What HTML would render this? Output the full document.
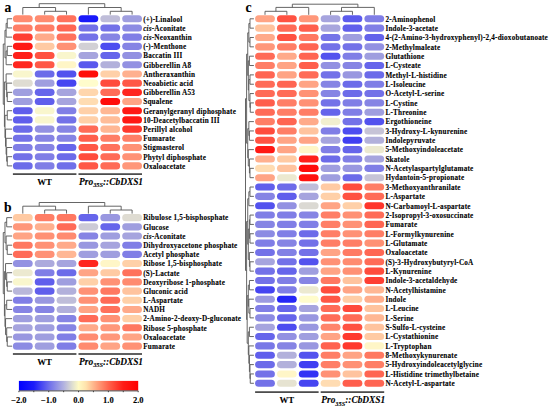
<!DOCTYPE html>
<html><head><meta charset="utf-8"><style>
html,body{margin:0;padding:0;background:#fff;}
body{width:550px;height:408px;overflow:hidden;}
svg{display:block;}
text{font-family:"Liberation Serif",serif;font-weight:bold;fill:#000;stroke:#000;stroke-width:0.1px;}
.lab{font-size:7.2px;letter-spacing:0.2px;}
.grp{font-size:8.8px;}
.gi{font-size:9.4px;}
.gi{font-style:italic;}
.sub{font-size:6.3px;}
.pl{font-size:13.6px;}
.lg{font-size:8.5px;}
.dg{stroke:#555;stroke-width:0.9;fill:none;}
.ax{stroke:#333;stroke-width:0.9;fill:none;}
</style></head><body>
<svg width="550" height="408" viewBox="0 0 550 408">
<rect x="12.90" y="15.20" width="19.8" height="7.1" rx="3.55" fill="#ff8b70"/>
<rect x="34.76" y="15.20" width="19.8" height="7.1" rx="3.55" fill="#ff8b70"/>
<rect x="56.62" y="15.20" width="19.8" height="7.1" rx="3.55" fill="#ff715c"/>
<rect x="78.48" y="15.20" width="19.8" height="7.1" rx="3.55" fill="#1919fa"/>
<rect x="100.34" y="15.20" width="19.8" height="7.1" rx="3.55" fill="#bfbdd9"/>
<rect x="122.20" y="15.20" width="19.8" height="7.1" rx="3.55" fill="#9f9edf"/>
<rect x="12.90" y="24.40" width="19.8" height="7.1" rx="3.55" fill="#ff7e66"/>
<rect x="34.76" y="24.40" width="19.8" height="7.1" rx="3.55" fill="#ff7e66"/>
<rect x="56.62" y="24.40" width="19.8" height="7.1" rx="3.55" fill="#ff6552"/>
<rect x="78.48" y="24.40" width="19.8" height="7.1" rx="3.55" fill="#7371e8"/>
<rect x="100.34" y="24.40" width="19.8" height="7.1" rx="3.55" fill="#7371e8"/>
<rect x="122.20" y="24.40" width="19.8" height="7.1" rx="3.55" fill="#8c8be3"/>
<rect x="12.90" y="33.59" width="19.8" height="7.1" rx="3.55" fill="#ff3f33"/>
<rect x="34.76" y="33.59" width="19.8" height="7.1" rx="3.55" fill="#ffaa8a"/>
<rect x="56.62" y="33.59" width="19.8" height="7.1" rx="3.55" fill="#ff715c"/>
<rect x="78.48" y="33.59" width="19.8" height="7.1" rx="3.55" fill="#7371e8"/>
<rect x="100.34" y="33.59" width="19.8" height="7.1" rx="3.55" fill="#8684e4"/>
<rect x="122.20" y="33.59" width="19.8" height="7.1" rx="3.55" fill="#807ee6"/>
<rect x="12.90" y="42.79" width="19.8" height="7.1" rx="3.55" fill="#ff1914"/>
<rect x="34.76" y="42.79" width="19.8" height="7.1" rx="3.55" fill="#ffcaa3"/>
<rect x="56.62" y="42.79" width="19.8" height="7.1" rx="3.55" fill="#ff9175"/>
<rect x="78.48" y="42.79" width="19.8" height="7.1" rx="3.55" fill="#d2d0d5"/>
<rect x="100.34" y="42.79" width="19.8" height="7.1" rx="3.55" fill="#4d4cf0"/>
<rect x="122.20" y="42.79" width="19.8" height="7.1" rx="3.55" fill="#8684e4"/>
<rect x="12.90" y="51.99" width="19.8" height="7.1" rx="3.55" fill="#ff201a"/>
<rect x="34.76" y="51.99" width="19.8" height="7.1" rx="3.55" fill="#ff5242"/>
<rect x="56.62" y="51.99" width="19.8" height="7.1" rx="3.55" fill="#f9f6cd"/>
<rect x="78.48" y="51.99" width="19.8" height="7.1" rx="3.55" fill="#a6a4de"/>
<rect x="100.34" y="51.99" width="19.8" height="7.1" rx="3.55" fill="#6665eb"/>
<rect x="122.20" y="51.99" width="19.8" height="7.1" rx="3.55" fill="#9391e2"/>
<rect x="12.90" y="61.19" width="19.8" height="7.1" rx="3.55" fill="#ff261f"/>
<rect x="34.76" y="61.19" width="19.8" height="7.1" rx="3.55" fill="#ff5847"/>
<rect x="56.62" y="61.19" width="19.8" height="7.1" rx="3.55" fill="#fff6c7"/>
<rect x="78.48" y="61.19" width="19.8" height="7.1" rx="3.55" fill="#5958ed"/>
<rect x="100.34" y="61.19" width="19.8" height="7.1" rx="3.55" fill="#b2b0db"/>
<rect x="122.20" y="61.19" width="19.8" height="7.1" rx="3.55" fill="#9391e2"/>
<rect x="12.90" y="70.38" width="19.8" height="7.1" rx="3.55" fill="#f9f6cd"/>
<rect x="34.76" y="70.38" width="19.8" height="7.1" rx="3.55" fill="#6c6be9"/>
<rect x="56.62" y="70.38" width="19.8" height="7.1" rx="3.55" fill="#5352ee"/>
<rect x="78.48" y="70.38" width="19.8" height="7.1" rx="3.55" fill="#ff0d0a"/>
<rect x="100.34" y="70.38" width="19.8" height="7.1" rx="3.55" fill="#ffd0a8"/>
<rect x="122.20" y="70.38" width="19.8" height="7.1" rx="3.55" fill="#ffb08f"/>
<rect x="12.90" y="79.58" width="19.8" height="7.1" rx="3.55" fill="#dfdcd2"/>
<rect x="34.76" y="79.58" width="19.8" height="7.1" rx="3.55" fill="#9f9edf"/>
<rect x="56.62" y="79.58" width="19.8" height="7.1" rx="3.55" fill="#4645f1"/>
<rect x="78.48" y="79.58" width="19.8" height="7.1" rx="3.55" fill="#fffccc"/>
<rect x="100.34" y="79.58" width="19.8" height="7.1" rx="3.55" fill="#ff4c3d"/>
<rect x="122.20" y="79.58" width="19.8" height="7.1" rx="3.55" fill="#ff5847"/>
<rect x="12.90" y="88.78" width="19.8" height="7.1" rx="3.55" fill="#9f9edf"/>
<rect x="34.76" y="88.78" width="19.8" height="7.1" rx="3.55" fill="#6665eb"/>
<rect x="56.62" y="88.78" width="19.8" height="7.1" rx="3.55" fill="#a6a4de"/>
<rect x="78.48" y="88.78" width="19.8" height="7.1" rx="3.55" fill="#ffd6ad"/>
<rect x="100.34" y="88.78" width="19.8" height="7.1" rx="3.55" fill="#ff6b57"/>
<rect x="122.20" y="88.78" width="19.8" height="7.1" rx="3.55" fill="#ff261f"/>
<rect x="12.90" y="97.97" width="19.8" height="7.1" rx="3.55" fill="#9f9edf"/>
<rect x="34.76" y="97.97" width="19.8" height="7.1" rx="3.55" fill="#605eec"/>
<rect x="56.62" y="97.97" width="19.8" height="7.1" rx="3.55" fill="#a6a4de"/>
<rect x="78.48" y="97.97" width="19.8" height="7.1" rx="3.55" fill="#ffdcb2"/>
<rect x="100.34" y="97.97" width="19.8" height="7.1" rx="3.55" fill="#ff0d0a"/>
<rect x="122.20" y="97.97" width="19.8" height="7.1" rx="3.55" fill="#ffa485"/>
<rect x="12.90" y="107.17" width="19.8" height="7.1" rx="3.55" fill="#605eec"/>
<rect x="34.76" y="107.17" width="19.8" height="7.1" rx="3.55" fill="#f9f6cd"/>
<rect x="56.62" y="107.17" width="19.8" height="7.1" rx="3.55" fill="#807ee6"/>
<rect x="78.48" y="107.17" width="19.8" height="7.1" rx="3.55" fill="#ffd0a8"/>
<rect x="100.34" y="107.17" width="19.8" height="7.1" rx="3.55" fill="#ffb794"/>
<rect x="122.20" y="107.17" width="19.8" height="7.1" rx="3.55" fill="#ff1914"/>
<rect x="12.90" y="116.37" width="19.8" height="7.1" rx="3.55" fill="#605eec"/>
<rect x="34.76" y="116.37" width="19.8" height="7.1" rx="3.55" fill="#f9f6cd"/>
<rect x="56.62" y="116.37" width="19.8" height="7.1" rx="3.55" fill="#7371e8"/>
<rect x="78.48" y="116.37" width="19.8" height="7.1" rx="3.55" fill="#ffd0a8"/>
<rect x="100.34" y="116.37" width="19.8" height="7.1" rx="3.55" fill="#ffbd99"/>
<rect x="122.20" y="116.37" width="19.8" height="7.1" rx="3.55" fill="#ff1914"/>
<rect x="12.90" y="125.56" width="19.8" height="7.1" rx="3.55" fill="#6c6be9"/>
<rect x="34.76" y="125.56" width="19.8" height="7.1" rx="3.55" fill="#9391e2"/>
<rect x="56.62" y="125.56" width="19.8" height="7.1" rx="3.55" fill="#8684e4"/>
<rect x="78.48" y="125.56" width="19.8" height="7.1" rx="3.55" fill="#ff6b57"/>
<rect x="100.34" y="125.56" width="19.8" height="7.1" rx="3.55" fill="#ffb794"/>
<rect x="122.20" y="125.56" width="19.8" height="7.1" rx="3.55" fill="#ff392e"/>
<rect x="12.90" y="134.76" width="19.8" height="7.1" rx="3.55" fill="#7371e8"/>
<rect x="34.76" y="134.76" width="19.8" height="7.1" rx="3.55" fill="#8684e4"/>
<rect x="56.62" y="134.76" width="19.8" height="7.1" rx="3.55" fill="#8684e4"/>
<rect x="78.48" y="134.76" width="19.8" height="7.1" rx="3.55" fill="#ff5e4c"/>
<rect x="100.34" y="134.76" width="19.8" height="7.1" rx="3.55" fill="#ff7e66"/>
<rect x="122.20" y="134.76" width="19.8" height="7.1" rx="3.55" fill="#ff7e66"/>
<rect x="12.90" y="143.96" width="19.8" height="7.1" rx="3.55" fill="#807ee6"/>
<rect x="34.76" y="143.96" width="19.8" height="7.1" rx="3.55" fill="#8684e4"/>
<rect x="56.62" y="143.96" width="19.8" height="7.1" rx="3.55" fill="#6665eb"/>
<rect x="78.48" y="143.96" width="19.8" height="7.1" rx="3.55" fill="#ff5847"/>
<rect x="100.34" y="143.96" width="19.8" height="7.1" rx="3.55" fill="#ff715c"/>
<rect x="122.20" y="143.96" width="19.8" height="7.1" rx="3.55" fill="#ff9175"/>
<rect x="12.90" y="153.15" width="19.8" height="7.1" rx="3.55" fill="#7371e8"/>
<rect x="34.76" y="153.15" width="19.8" height="7.1" rx="3.55" fill="#807ee6"/>
<rect x="56.62" y="153.15" width="19.8" height="7.1" rx="3.55" fill="#6c6be9"/>
<rect x="78.48" y="153.15" width="19.8" height="7.1" rx="3.55" fill="#ff4c3d"/>
<rect x="100.34" y="153.15" width="19.8" height="7.1" rx="3.55" fill="#ff6b57"/>
<rect x="122.20" y="153.15" width="19.8" height="7.1" rx="3.55" fill="#ff9175"/>
<rect x="12.90" y="162.35" width="19.8" height="7.1" rx="3.55" fill="#6c6be9"/>
<rect x="34.76" y="162.35" width="19.8" height="7.1" rx="3.55" fill="#807ee6"/>
<rect x="56.62" y="162.35" width="19.8" height="7.1" rx="3.55" fill="#706fe9"/>
<rect x="78.48" y="162.35" width="19.8" height="7.1" rx="3.55" fill="#ff5847"/>
<rect x="100.34" y="162.35" width="19.8" height="7.1" rx="3.55" fill="#ff6b57"/>
<rect x="122.20" y="162.35" width="19.8" height="7.1" rx="3.55" fill="#ff977a"/>
<rect x="12.90" y="214.10" width="19.8" height="7.1" rx="3.55" fill="#ffcaa3"/>
<rect x="34.76" y="214.10" width="19.8" height="7.1" rx="3.55" fill="#ff7e66"/>
<rect x="56.62" y="214.10" width="19.8" height="7.1" rx="3.55" fill="#ff7861"/>
<rect x="78.48" y="214.10" width="19.8" height="7.1" rx="3.55" fill="#6665eb"/>
<rect x="100.34" y="214.10" width="19.8" height="7.1" rx="3.55" fill="#9997e0"/>
<rect x="122.20" y="214.10" width="19.8" height="7.1" rx="3.55" fill="#dfdcd2"/>
<rect x="12.90" y="223.28" width="19.8" height="7.1" rx="3.55" fill="#ff977a"/>
<rect x="34.76" y="223.28" width="19.8" height="7.1" rx="3.55" fill="#ffb08f"/>
<rect x="56.62" y="223.28" width="19.8" height="7.1" rx="3.55" fill="#ff6b57"/>
<rect x="78.48" y="223.28" width="19.8" height="7.1" rx="3.55" fill="#cccad6"/>
<rect x="100.34" y="223.28" width="19.8" height="7.1" rx="3.55" fill="#6665eb"/>
<rect x="122.20" y="223.28" width="19.8" height="7.1" rx="3.55" fill="#9f9edf"/>
<rect x="12.90" y="232.46" width="19.8" height="7.1" rx="3.55" fill="#ffa485"/>
<rect x="34.76" y="232.46" width="19.8" height="7.1" rx="3.55" fill="#ff9175"/>
<rect x="56.62" y="232.46" width="19.8" height="7.1" rx="3.55" fill="#ff8b70"/>
<rect x="78.48" y="232.46" width="19.8" height="7.1" rx="3.55" fill="#8684e4"/>
<rect x="100.34" y="232.46" width="19.8" height="7.1" rx="3.55" fill="#9f9edf"/>
<rect x="122.20" y="232.46" width="19.8" height="7.1" rx="3.55" fill="#a6a4de"/>
<rect x="12.90" y="241.64" width="19.8" height="7.1" rx="3.55" fill="#ff7861"/>
<rect x="34.76" y="241.64" width="19.8" height="7.1" rx="3.55" fill="#ff9175"/>
<rect x="56.62" y="241.64" width="19.8" height="7.1" rx="3.55" fill="#ffaa8a"/>
<rect x="78.48" y="241.64" width="19.8" height="7.1" rx="3.55" fill="#9997e0"/>
<rect x="100.34" y="241.64" width="19.8" height="7.1" rx="3.55" fill="#a6a4de"/>
<rect x="122.20" y="241.64" width="19.8" height="7.1" rx="3.55" fill="#807ee6"/>
<rect x="12.90" y="250.82" width="19.8" height="7.1" rx="3.55" fill="#ff6b57"/>
<rect x="34.76" y="250.82" width="19.8" height="7.1" rx="3.55" fill="#ff9175"/>
<rect x="56.62" y="250.82" width="19.8" height="7.1" rx="3.55" fill="#ffb794"/>
<rect x="78.48" y="250.82" width="19.8" height="7.1" rx="3.55" fill="#9f9edf"/>
<rect x="100.34" y="250.82" width="19.8" height="7.1" rx="3.55" fill="#9f9edf"/>
<rect x="122.20" y="250.82" width="19.8" height="7.1" rx="3.55" fill="#807ee6"/>
<rect x="12.90" y="260.00" width="19.8" height="7.1" rx="3.55" fill="#9391e2"/>
<rect x="34.76" y="260.00" width="19.8" height="7.1" rx="3.55" fill="#acaadd"/>
<rect x="56.62" y="260.00" width="19.8" height="7.1" rx="3.55" fill="#a6a4de"/>
<rect x="78.48" y="260.00" width="19.8" height="7.1" rx="3.55" fill="#ff261f"/>
<rect x="100.34" y="260.00" width="19.8" height="7.1" rx="3.55" fill="#fff6c7"/>
<rect x="122.20" y="260.00" width="19.8" height="7.1" rx="3.55" fill="#ffd0a8"/>
<rect x="12.90" y="269.18" width="19.8" height="7.1" rx="3.55" fill="#ece9d0"/>
<rect x="34.76" y="269.18" width="19.8" height="7.1" rx="3.55" fill="#807ee6"/>
<rect x="56.62" y="269.18" width="19.8" height="7.1" rx="3.55" fill="#6c6be9"/>
<rect x="78.48" y="269.18" width="19.8" height="7.1" rx="3.55" fill="#ffa485"/>
<rect x="100.34" y="269.18" width="19.8" height="7.1" rx="3.55" fill="#ffcaa3"/>
<rect x="122.20" y="269.18" width="19.8" height="7.1" rx="3.55" fill="#ff715c"/>
<rect x="12.90" y="278.36" width="19.8" height="7.1" rx="3.55" fill="#f9f6cd"/>
<rect x="34.76" y="278.36" width="19.8" height="7.1" rx="3.55" fill="#605eec"/>
<rect x="56.62" y="278.36" width="19.8" height="7.1" rx="3.55" fill="#9f9edf"/>
<rect x="78.48" y="278.36" width="19.8" height="7.1" rx="3.55" fill="#ffd0a8"/>
<rect x="100.34" y="278.36" width="19.8" height="7.1" rx="3.55" fill="#ff9175"/>
<rect x="122.20" y="278.36" width="19.8" height="7.1" rx="3.55" fill="#ff8b70"/>
<rect x="12.90" y="287.54" width="19.8" height="7.1" rx="3.55" fill="#b9b7da"/>
<rect x="34.76" y="287.54" width="19.8" height="7.1" rx="3.55" fill="#605eec"/>
<rect x="56.62" y="287.54" width="19.8" height="7.1" rx="3.55" fill="#b2b0db"/>
<rect x="78.48" y="287.54" width="19.8" height="7.1" rx="3.55" fill="#ff9175"/>
<rect x="100.34" y="287.54" width="19.8" height="7.1" rx="3.55" fill="#ff7861"/>
<rect x="122.20" y="287.54" width="19.8" height="7.1" rx="3.55" fill="#ffc39e"/>
<rect x="12.90" y="296.72" width="19.8" height="7.1" rx="3.55" fill="#807ee6"/>
<rect x="34.76" y="296.72" width="19.8" height="7.1" rx="3.55" fill="#9997e0"/>
<rect x="56.62" y="296.72" width="19.8" height="7.1" rx="3.55" fill="#bfbdd9"/>
<rect x="78.48" y="296.72" width="19.8" height="7.1" rx="3.55" fill="#ff9175"/>
<rect x="100.34" y="296.72" width="19.8" height="7.1" rx="3.55" fill="#ff6b57"/>
<rect x="122.20" y="296.72" width="19.8" height="7.1" rx="3.55" fill="#ffd0a8"/>
<rect x="12.90" y="305.90" width="19.8" height="7.1" rx="3.55" fill="#8684e4"/>
<rect x="34.76" y="305.90" width="19.8" height="7.1" rx="3.55" fill="#8684e4"/>
<rect x="56.62" y="305.90" width="19.8" height="7.1" rx="3.55" fill="#b2b0db"/>
<rect x="78.48" y="305.90" width="19.8" height="7.1" rx="3.55" fill="#ffa485"/>
<rect x="100.34" y="305.90" width="19.8" height="7.1" rx="3.55" fill="#ff715c"/>
<rect x="122.20" y="305.90" width="19.8" height="7.1" rx="3.55" fill="#ffaa8a"/>
<rect x="12.90" y="315.08" width="19.8" height="7.1" rx="3.55" fill="#9f9edf"/>
<rect x="34.76" y="315.08" width="19.8" height="7.1" rx="3.55" fill="#9f9edf"/>
<rect x="56.62" y="315.08" width="19.8" height="7.1" rx="3.55" fill="#8684e4"/>
<rect x="78.48" y="315.08" width="19.8" height="7.1" rx="3.55" fill="#ff6b57"/>
<rect x="100.34" y="315.08" width="19.8" height="7.1" rx="3.55" fill="#ff9175"/>
<rect x="122.20" y="315.08" width="19.8" height="7.1" rx="3.55" fill="#ffd0a8"/>
<rect x="12.90" y="324.26" width="19.8" height="7.1" rx="3.55" fill="#a6a4de"/>
<rect x="34.76" y="324.26" width="19.8" height="7.1" rx="3.55" fill="#9f9edf"/>
<rect x="56.62" y="324.26" width="19.8" height="7.1" rx="3.55" fill="#8684e4"/>
<rect x="78.48" y="324.26" width="19.8" height="7.1" rx="3.55" fill="#ffaa8a"/>
<rect x="100.34" y="324.26" width="19.8" height="7.1" rx="3.55" fill="#ff977a"/>
<rect x="122.20" y="324.26" width="19.8" height="7.1" rx="3.55" fill="#ff7861"/>
<rect x="12.90" y="333.44" width="19.8" height="7.1" rx="3.55" fill="#9997e0"/>
<rect x="34.76" y="333.44" width="19.8" height="7.1" rx="3.55" fill="#9f9edf"/>
<rect x="56.62" y="333.44" width="19.8" height="7.1" rx="3.55" fill="#807ee6"/>
<rect x="78.48" y="333.44" width="19.8" height="7.1" rx="3.55" fill="#ff8b70"/>
<rect x="100.34" y="333.44" width="19.8" height="7.1" rx="3.55" fill="#ff977a"/>
<rect x="122.20" y="333.44" width="19.8" height="7.1" rx="3.55" fill="#ffa485"/>
<rect x="12.90" y="342.62" width="19.8" height="7.1" rx="3.55" fill="#8c8be3"/>
<rect x="34.76" y="342.62" width="19.8" height="7.1" rx="3.55" fill="#9f9edf"/>
<rect x="56.62" y="342.62" width="19.8" height="7.1" rx="3.55" fill="#807ee6"/>
<rect x="78.48" y="342.62" width="19.8" height="7.1" rx="3.55" fill="#ff8b70"/>
<rect x="100.34" y="342.62" width="19.8" height="7.1" rx="3.55" fill="#ffa485"/>
<rect x="122.20" y="342.62" width="19.8" height="7.1" rx="3.55" fill="#ff9175"/>
<rect x="255.10" y="15.25" width="19.8" height="7.1" rx="3.55" fill="#ffa485"/>
<rect x="276.96" y="15.25" width="19.8" height="7.1" rx="3.55" fill="#ff5242"/>
<rect x="298.82" y="15.25" width="19.8" height="7.1" rx="3.55" fill="#ff977a"/>
<rect x="320.68" y="15.25" width="19.8" height="7.1" rx="3.55" fill="#a6a4de"/>
<rect x="342.54" y="15.25" width="19.8" height="7.1" rx="3.55" fill="#5c5bed"/>
<rect x="364.40" y="15.25" width="19.8" height="7.1" rx="3.55" fill="#807ee6"/>
<rect x="255.10" y="24.60" width="19.8" height="7.1" rx="3.55" fill="#ffc39e"/>
<rect x="276.96" y="24.60" width="19.8" height="7.1" rx="3.55" fill="#ff6b57"/>
<rect x="298.82" y="24.60" width="19.8" height="7.1" rx="3.55" fill="#ff5e4c"/>
<rect x="320.68" y="24.60" width="19.8" height="7.1" rx="3.55" fill="#a8a6dd"/>
<rect x="342.54" y="24.60" width="19.8" height="7.1" rx="3.55" fill="#605eec"/>
<rect x="364.40" y="24.60" width="19.8" height="7.1" rx="3.55" fill="#807ee6"/>
<rect x="255.10" y="33.94" width="19.8" height="7.1" rx="3.55" fill="#ffaa8a"/>
<rect x="276.96" y="33.94" width="19.8" height="7.1" rx="3.55" fill="#ff5242"/>
<rect x="298.82" y="33.94" width="19.8" height="7.1" rx="3.55" fill="#ff7861"/>
<rect x="320.68" y="33.94" width="19.8" height="7.1" rx="3.55" fill="#7574e8"/>
<rect x="342.54" y="33.94" width="19.8" height="7.1" rx="3.55" fill="#9f9edf"/>
<rect x="364.40" y="33.94" width="19.8" height="7.1" rx="3.55" fill="#6362eb"/>
<rect x="255.10" y="43.29" width="19.8" height="7.1" rx="3.55" fill="#ff977a"/>
<rect x="276.96" y="43.29" width="19.8" height="7.1" rx="3.55" fill="#ff7e66"/>
<rect x="298.82" y="43.29" width="19.8" height="7.1" rx="3.55" fill="#ff6552"/>
<rect x="320.68" y="43.29" width="19.8" height="7.1" rx="3.55" fill="#7371e8"/>
<rect x="342.54" y="43.29" width="19.8" height="7.1" rx="3.55" fill="#7371e8"/>
<rect x="364.40" y="43.29" width="19.8" height="7.1" rx="3.55" fill="#9391e2"/>
<rect x="255.10" y="52.63" width="19.8" height="7.1" rx="3.55" fill="#ff6b57"/>
<rect x="276.96" y="52.63" width="19.8" height="7.1" rx="3.55" fill="#ffaa8a"/>
<rect x="298.82" y="52.63" width="19.8" height="7.1" rx="3.55" fill="#ff6552"/>
<rect x="320.68" y="52.63" width="19.8" height="7.1" rx="3.55" fill="#5352ee"/>
<rect x="342.54" y="52.63" width="19.8" height="7.1" rx="3.55" fill="#807ee6"/>
<rect x="364.40" y="52.63" width="19.8" height="7.1" rx="3.55" fill="#9f9edf"/>
<rect x="255.10" y="61.98" width="19.8" height="7.1" rx="3.55" fill="#ff7e66"/>
<rect x="276.96" y="61.98" width="19.8" height="7.1" rx="3.55" fill="#ffa485"/>
<rect x="298.82" y="61.98" width="19.8" height="7.1" rx="3.55" fill="#ff5e4c"/>
<rect x="320.68" y="61.98" width="19.8" height="7.1" rx="3.55" fill="#9391e2"/>
<rect x="342.54" y="61.98" width="19.8" height="7.1" rx="3.55" fill="#8684e4"/>
<rect x="364.40" y="61.98" width="19.8" height="7.1" rx="3.55" fill="#6665eb"/>
<rect x="255.10" y="71.33" width="19.8" height="7.1" rx="3.55" fill="#ff6552"/>
<rect x="276.96" y="71.33" width="19.8" height="7.1" rx="3.55" fill="#ffa485"/>
<rect x="298.82" y="71.33" width="19.8" height="7.1" rx="3.55" fill="#ff6b57"/>
<rect x="320.68" y="71.33" width="19.8" height="7.1" rx="3.55" fill="#7371e8"/>
<rect x="342.54" y="71.33" width="19.8" height="7.1" rx="3.55" fill="#9997e0"/>
<rect x="364.40" y="71.33" width="19.8" height="7.1" rx="3.55" fill="#6c6be9"/>
<rect x="255.10" y="80.67" width="19.8" height="7.1" rx="3.55" fill="#ff6b57"/>
<rect x="276.96" y="80.67" width="19.8" height="7.1" rx="3.55" fill="#ff6552"/>
<rect x="298.82" y="80.67" width="19.8" height="7.1" rx="3.55" fill="#ffa485"/>
<rect x="320.68" y="80.67" width="19.8" height="7.1" rx="3.55" fill="#8684e4"/>
<rect x="342.54" y="80.67" width="19.8" height="7.1" rx="3.55" fill="#6c6be9"/>
<rect x="364.40" y="80.67" width="19.8" height="7.1" rx="3.55" fill="#807ee6"/>
<rect x="255.10" y="90.02" width="19.8" height="7.1" rx="3.55" fill="#ff6b57"/>
<rect x="276.96" y="90.02" width="19.8" height="7.1" rx="3.55" fill="#ff6b57"/>
<rect x="298.82" y="90.02" width="19.8" height="7.1" rx="3.55" fill="#ff9175"/>
<rect x="320.68" y="90.02" width="19.8" height="7.1" rx="3.55" fill="#8684e4"/>
<rect x="342.54" y="90.02" width="19.8" height="7.1" rx="3.55" fill="#6c6be9"/>
<rect x="364.40" y="90.02" width="19.8" height="7.1" rx="3.55" fill="#7371e8"/>
<rect x="255.10" y="99.36" width="19.8" height="7.1" rx="3.55" fill="#ff5e4c"/>
<rect x="276.96" y="99.36" width="19.8" height="7.1" rx="3.55" fill="#ff7e66"/>
<rect x="298.82" y="99.36" width="19.8" height="7.1" rx="3.55" fill="#ff9175"/>
<rect x="320.68" y="99.36" width="19.8" height="7.1" rx="3.55" fill="#7371e8"/>
<rect x="342.54" y="99.36" width="19.8" height="7.1" rx="3.55" fill="#807ee6"/>
<rect x="364.40" y="99.36" width="19.8" height="7.1" rx="3.55" fill="#8684e4"/>
<rect x="255.10" y="108.71" width="19.8" height="7.1" rx="3.55" fill="#ff6b57"/>
<rect x="276.96" y="108.71" width="19.8" height="7.1" rx="3.55" fill="#ff7e66"/>
<rect x="298.82" y="108.71" width="19.8" height="7.1" rx="3.55" fill="#ff7e66"/>
<rect x="320.68" y="108.71" width="19.8" height="7.1" rx="3.55" fill="#6665eb"/>
<rect x="342.54" y="108.71" width="19.8" height="7.1" rx="3.55" fill="#807ee6"/>
<rect x="364.40" y="108.71" width="19.8" height="7.1" rx="3.55" fill="#9f9edf"/>
<rect x="255.10" y="118.06" width="19.8" height="7.1" rx="3.55" fill="#ff7e66"/>
<rect x="276.96" y="118.06" width="19.8" height="7.1" rx="3.55" fill="#ff6552"/>
<rect x="298.82" y="118.06" width="19.8" height="7.1" rx="3.55" fill="#ffaa8a"/>
<rect x="320.68" y="118.06" width="19.8" height="7.1" rx="3.55" fill="#f2efcf"/>
<rect x="342.54" y="118.06" width="19.8" height="7.1" rx="3.55" fill="#7371e8"/>
<rect x="364.40" y="118.06" width="19.8" height="7.1" rx="3.55" fill="#5352ee"/>
<rect x="255.10" y="127.40" width="19.8" height="7.1" rx="3.55" fill="#ff4c3d"/>
<rect x="276.96" y="127.40" width="19.8" height="7.1" rx="3.55" fill="#ff7e66"/>
<rect x="298.82" y="127.40" width="19.8" height="7.1" rx="3.55" fill="#ffc39e"/>
<rect x="320.68" y="127.40" width="19.8" height="7.1" rx="3.55" fill="#807ee6"/>
<rect x="342.54" y="127.40" width="19.8" height="7.1" rx="3.55" fill="#4d4cf0"/>
<rect x="364.40" y="127.40" width="19.8" height="7.1" rx="3.55" fill="#c6c3d7"/>
<rect x="255.10" y="136.75" width="19.8" height="7.1" rx="3.55" fill="#ff5242"/>
<rect x="276.96" y="136.75" width="19.8" height="7.1" rx="3.55" fill="#ffa485"/>
<rect x="298.82" y="136.75" width="19.8" height="7.1" rx="3.55" fill="#ffa485"/>
<rect x="320.68" y="136.75" width="19.8" height="7.1" rx="3.55" fill="#a6a4de"/>
<rect x="342.54" y="136.75" width="19.8" height="7.1" rx="3.55" fill="#403ff2"/>
<rect x="364.40" y="136.75" width="19.8" height="7.1" rx="3.55" fill="#b2b0db"/>
<rect x="255.10" y="146.09" width="19.8" height="7.1" rx="3.55" fill="#ff1914"/>
<rect x="276.96" y="146.09" width="19.8" height="7.1" rx="3.55" fill="#ffa485"/>
<rect x="298.82" y="146.09" width="19.8" height="7.1" rx="3.55" fill="#fff6c7"/>
<rect x="320.68" y="146.09" width="19.8" height="7.1" rx="3.55" fill="#807ee6"/>
<rect x="342.54" y="146.09" width="19.8" height="7.1" rx="3.55" fill="#6665eb"/>
<rect x="364.40" y="146.09" width="19.8" height="7.1" rx="3.55" fill="#ece9d0"/>
<rect x="255.10" y="155.44" width="19.8" height="7.1" rx="3.55" fill="#ffb08f"/>
<rect x="276.96" y="155.44" width="19.8" height="7.1" rx="3.55" fill="#ffcaa3"/>
<rect x="298.82" y="155.44" width="19.8" height="7.1" rx="3.55" fill="#ff201a"/>
<rect x="320.68" y="155.44" width="19.8" height="7.1" rx="3.55" fill="#6c6be9"/>
<rect x="342.54" y="155.44" width="19.8" height="7.1" rx="3.55" fill="#807ee6"/>
<rect x="364.40" y="155.44" width="19.8" height="7.1" rx="3.55" fill="#a6a4de"/>
<rect x="255.10" y="164.79" width="19.8" height="7.1" rx="3.55" fill="#ffdcb2"/>
<rect x="276.96" y="164.79" width="19.8" height="7.1" rx="3.55" fill="#ffc39e"/>
<rect x="298.82" y="164.79" width="19.8" height="7.1" rx="3.55" fill="#ff0d0a"/>
<rect x="320.68" y="164.79" width="19.8" height="7.1" rx="3.55" fill="#9f9edf"/>
<rect x="342.54" y="164.79" width="19.8" height="7.1" rx="3.55" fill="#9997e0"/>
<rect x="364.40" y="164.79" width="19.8" height="7.1" rx="3.55" fill="#807ee6"/>
<rect x="255.10" y="174.13" width="19.8" height="7.1" rx="3.55" fill="#ffa485"/>
<rect x="276.96" y="174.13" width="19.8" height="7.1" rx="3.55" fill="#ece9d0"/>
<rect x="298.82" y="174.13" width="19.8" height="7.1" rx="3.55" fill="#ff130f"/>
<rect x="320.68" y="174.13" width="19.8" height="7.1" rx="3.55" fill="#9f9edf"/>
<rect x="342.54" y="174.13" width="19.8" height="7.1" rx="3.55" fill="#6c6be9"/>
<rect x="364.40" y="174.13" width="19.8" height="7.1" rx="3.55" fill="#c6c3d7"/>
<rect x="255.10" y="183.48" width="19.8" height="7.1" rx="3.55" fill="#605eec"/>
<rect x="276.96" y="183.48" width="19.8" height="7.1" rx="3.55" fill="#6c6be9"/>
<rect x="298.82" y="183.48" width="19.8" height="7.1" rx="3.55" fill="#bfbdd9"/>
<rect x="320.68" y="183.48" width="19.8" height="7.1" rx="3.55" fill="#ffcaa3"/>
<rect x="342.54" y="183.48" width="19.8" height="7.1" rx="3.55" fill="#ff4c3d"/>
<rect x="364.40" y="183.48" width="19.8" height="7.1" rx="3.55" fill="#ff7e66"/>
<rect x="255.10" y="192.82" width="19.8" height="7.1" rx="3.55" fill="#8684e4"/>
<rect x="276.96" y="192.82" width="19.8" height="7.1" rx="3.55" fill="#605eec"/>
<rect x="298.82" y="192.82" width="19.8" height="7.1" rx="3.55" fill="#a6a4de"/>
<rect x="320.68" y="192.82" width="19.8" height="7.1" rx="3.55" fill="#ffd0a8"/>
<rect x="342.54" y="192.82" width="19.8" height="7.1" rx="3.55" fill="#ff5242"/>
<rect x="364.40" y="192.82" width="19.8" height="7.1" rx="3.55" fill="#ff6b57"/>
<rect x="255.10" y="202.17" width="19.8" height="7.1" rx="3.55" fill="#5352ee"/>
<rect x="276.96" y="202.17" width="19.8" height="7.1" rx="3.55" fill="#9391e2"/>
<rect x="298.82" y="202.17" width="19.8" height="7.1" rx="3.55" fill="#dbd9d3"/>
<rect x="320.68" y="202.17" width="19.8" height="7.1" rx="3.55" fill="#ffa485"/>
<rect x="342.54" y="202.17" width="19.8" height="7.1" rx="3.55" fill="#ffd0a8"/>
<rect x="364.40" y="202.17" width="19.8" height="7.1" rx="3.55" fill="#ff352b"/>
<rect x="255.10" y="211.52" width="19.8" height="7.1" rx="3.55" fill="#807ee6"/>
<rect x="276.96" y="211.52" width="19.8" height="7.1" rx="3.55" fill="#807ee6"/>
<rect x="298.82" y="211.52" width="19.8" height="7.1" rx="3.55" fill="#8684e4"/>
<rect x="320.68" y="211.52" width="19.8" height="7.1" rx="3.55" fill="#ff7e66"/>
<rect x="342.54" y="211.52" width="19.8" height="7.1" rx="3.55" fill="#ff9175"/>
<rect x="364.40" y="211.52" width="19.8" height="7.1" rx="3.55" fill="#ff6b57"/>
<rect x="255.10" y="220.86" width="19.8" height="7.1" rx="3.55" fill="#8684e4"/>
<rect x="276.96" y="220.86" width="19.8" height="7.1" rx="3.55" fill="#807ee6"/>
<rect x="298.82" y="220.86" width="19.8" height="7.1" rx="3.55" fill="#807ee6"/>
<rect x="320.68" y="220.86" width="19.8" height="7.1" rx="3.55" fill="#ff7e66"/>
<rect x="342.54" y="220.86" width="19.8" height="7.1" rx="3.55" fill="#ff9175"/>
<rect x="364.40" y="220.86" width="19.8" height="7.1" rx="3.55" fill="#ff6552"/>
<rect x="255.10" y="230.21" width="19.8" height="7.1" rx="3.55" fill="#8c8be3"/>
<rect x="276.96" y="230.21" width="19.8" height="7.1" rx="3.55" fill="#807ee6"/>
<rect x="298.82" y="230.21" width="19.8" height="7.1" rx="3.55" fill="#6c6be9"/>
<rect x="320.68" y="230.21" width="19.8" height="7.1" rx="3.55" fill="#ff7e66"/>
<rect x="342.54" y="230.21" width="19.8" height="7.1" rx="3.55" fill="#ff9175"/>
<rect x="364.40" y="230.21" width="19.8" height="7.1" rx="3.55" fill="#ff7e66"/>
<rect x="255.10" y="239.55" width="19.8" height="7.1" rx="3.55" fill="#807ee6"/>
<rect x="276.96" y="239.55" width="19.8" height="7.1" rx="3.55" fill="#8684e4"/>
<rect x="298.82" y="239.55" width="19.8" height="7.1" rx="3.55" fill="#7371e8"/>
<rect x="320.68" y="239.55" width="19.8" height="7.1" rx="3.55" fill="#ff7e66"/>
<rect x="342.54" y="239.55" width="19.8" height="7.1" rx="3.55" fill="#ff7e66"/>
<rect x="364.40" y="239.55" width="19.8" height="7.1" rx="3.55" fill="#ff9175"/>
<rect x="255.10" y="248.90" width="19.8" height="7.1" rx="3.55" fill="#7371e8"/>
<rect x="276.96" y="248.90" width="19.8" height="7.1" rx="3.55" fill="#8281e5"/>
<rect x="298.82" y="248.90" width="19.8" height="7.1" rx="3.55" fill="#7371e8"/>
<rect x="320.68" y="248.90" width="19.8" height="7.1" rx="3.55" fill="#ffa485"/>
<rect x="342.54" y="248.90" width="19.8" height="7.1" rx="3.55" fill="#ff7b64"/>
<rect x="364.40" y="248.90" width="19.8" height="7.1" rx="3.55" fill="#ff6754"/>
<rect x="255.10" y="258.25" width="19.8" height="7.1" rx="3.55" fill="#a6a4de"/>
<rect x="276.96" y="258.25" width="19.8" height="7.1" rx="3.55" fill="#7371e8"/>
<rect x="298.82" y="258.25" width="19.8" height="7.1" rx="3.55" fill="#5352ee"/>
<rect x="320.68" y="258.25" width="19.8" height="7.1" rx="3.55" fill="#ff9175"/>
<rect x="342.54" y="258.25" width="19.8" height="7.1" rx="3.55" fill="#ff8b70"/>
<rect x="364.40" y="258.25" width="19.8" height="7.1" rx="3.55" fill="#ff6b57"/>
<rect x="255.10" y="267.59" width="19.8" height="7.1" rx="3.55" fill="#7371e8"/>
<rect x="276.96" y="267.59" width="19.8" height="7.1" rx="3.55" fill="#6665eb"/>
<rect x="298.82" y="267.59" width="19.8" height="7.1" rx="3.55" fill="#9f9edf"/>
<rect x="320.68" y="267.59" width="19.8" height="7.1" rx="3.55" fill="#ffa485"/>
<rect x="342.54" y="267.59" width="19.8" height="7.1" rx="3.55" fill="#ff9175"/>
<rect x="364.40" y="267.59" width="19.8" height="7.1" rx="3.55" fill="#ff4c3d"/>
<rect x="255.10" y="276.94" width="19.8" height="7.1" rx="3.55" fill="#7371e8"/>
<rect x="276.96" y="276.94" width="19.8" height="7.1" rx="3.55" fill="#807ee6"/>
<rect x="298.82" y="276.94" width="19.8" height="7.1" rx="3.55" fill="#8684e4"/>
<rect x="320.68" y="276.94" width="19.8" height="7.1" rx="3.55" fill="#ff7861"/>
<rect x="342.54" y="276.94" width="19.8" height="7.1" rx="3.55" fill="#ffc39e"/>
<rect x="364.40" y="276.94" width="19.8" height="7.1" rx="3.55" fill="#ff3f33"/>
<rect x="255.10" y="286.28" width="19.8" height="7.1" rx="3.55" fill="#4645f1"/>
<rect x="276.96" y="286.28" width="19.8" height="7.1" rx="3.55" fill="#807ee6"/>
<rect x="298.82" y="286.28" width="19.8" height="7.1" rx="3.55" fill="#ece9d0"/>
<rect x="320.68" y="286.28" width="19.8" height="7.1" rx="3.55" fill="#ff4c3d"/>
<rect x="342.54" y="286.28" width="19.8" height="7.1" rx="3.55" fill="#ffa485"/>
<rect x="364.40" y="286.28" width="19.8" height="7.1" rx="3.55" fill="#ffb794"/>
<rect x="255.10" y="295.63" width="19.8" height="7.1" rx="3.55" fill="#9c9ae0"/>
<rect x="276.96" y="295.63" width="19.8" height="7.1" rx="3.55" fill="#2626f7"/>
<rect x="298.82" y="295.63" width="19.8" height="7.1" rx="3.55" fill="#fffccc"/>
<rect x="320.68" y="295.63" width="19.8" height="7.1" rx="3.55" fill="#ff5645"/>
<rect x="342.54" y="295.63" width="19.8" height="7.1" rx="3.55" fill="#ffcda6"/>
<rect x="364.40" y="295.63" width="19.8" height="7.1" rx="3.55" fill="#ffae8d"/>
<rect x="255.10" y="304.98" width="19.8" height="7.1" rx="3.55" fill="#807ee6"/>
<rect x="276.96" y="304.98" width="19.8" height="7.1" rx="3.55" fill="#6665eb"/>
<rect x="298.82" y="304.98" width="19.8" height="7.1" rx="3.55" fill="#a6a4de"/>
<rect x="320.68" y="304.98" width="19.8" height="7.1" rx="3.55" fill="#ff6b57"/>
<rect x="342.54" y="304.98" width="19.8" height="7.1" rx="3.55" fill="#ff493b"/>
<rect x="364.40" y="304.98" width="19.8" height="7.1" rx="3.55" fill="#ffc39e"/>
<rect x="255.10" y="314.32" width="19.8" height="7.1" rx="3.55" fill="#8c8be3"/>
<rect x="276.96" y="314.32" width="19.8" height="7.1" rx="3.55" fill="#6665eb"/>
<rect x="298.82" y="314.32" width="19.8" height="7.1" rx="3.55" fill="#9997e0"/>
<rect x="320.68" y="314.32" width="19.8" height="7.1" rx="3.55" fill="#ff6b57"/>
<rect x="342.54" y="314.32" width="19.8" height="7.1" rx="3.55" fill="#ff6b57"/>
<rect x="364.40" y="314.32" width="19.8" height="7.1" rx="3.55" fill="#ffb794"/>
<rect x="255.10" y="323.67" width="19.8" height="7.1" rx="3.55" fill="#a6a4de"/>
<rect x="276.96" y="323.67" width="19.8" height="7.1" rx="3.55" fill="#4d4cf0"/>
<rect x="298.82" y="323.67" width="19.8" height="7.1" rx="3.55" fill="#9997e0"/>
<rect x="320.68" y="323.67" width="19.8" height="7.1" rx="3.55" fill="#ff846b"/>
<rect x="342.54" y="323.67" width="19.8" height="7.1" rx="3.55" fill="#ff5242"/>
<rect x="364.40" y="323.67" width="19.8" height="7.1" rx="3.55" fill="#ffc39e"/>
<rect x="255.10" y="333.01" width="19.8" height="7.1" rx="3.55" fill="#6665eb"/>
<rect x="276.96" y="333.01" width="19.8" height="7.1" rx="3.55" fill="#9391e2"/>
<rect x="298.82" y="333.01" width="19.8" height="7.1" rx="3.55" fill="#9f9edf"/>
<rect x="320.68" y="333.01" width="19.8" height="7.1" rx="3.55" fill="#ffa485"/>
<rect x="342.54" y="333.01" width="19.8" height="7.1" rx="3.55" fill="#ff392e"/>
<rect x="364.40" y="333.01" width="19.8" height="7.1" rx="3.55" fill="#ffcaa3"/>
<rect x="255.10" y="342.36" width="19.8" height="7.1" rx="3.55" fill="#7978e7"/>
<rect x="276.96" y="342.36" width="19.8" height="7.1" rx="3.55" fill="#8684e4"/>
<rect x="298.82" y="342.36" width="19.8" height="7.1" rx="3.55" fill="#9997e0"/>
<rect x="320.68" y="342.36" width="19.8" height="7.1" rx="3.55" fill="#ff6250"/>
<rect x="342.54" y="342.36" width="19.8" height="7.1" rx="3.55" fill="#ff392e"/>
<rect x="364.40" y="342.36" width="19.8" height="7.1" rx="3.55" fill="#fff6c7"/>
<rect x="255.10" y="351.71" width="19.8" height="7.1" rx="3.55" fill="#605eec"/>
<rect x="276.96" y="351.71" width="19.8" height="7.1" rx="3.55" fill="#b2b0db"/>
<rect x="298.82" y="351.71" width="19.8" height="7.1" rx="3.55" fill="#5352ee"/>
<rect x="320.68" y="351.71" width="19.8" height="7.1" rx="3.55" fill="#ff7e66"/>
<rect x="342.54" y="351.71" width="19.8" height="7.1" rx="3.55" fill="#ffa485"/>
<rect x="364.40" y="351.71" width="19.8" height="7.1" rx="3.55" fill="#ff7861"/>
<rect x="255.10" y="361.05" width="19.8" height="7.1" rx="3.55" fill="#6c6be9"/>
<rect x="276.96" y="361.05" width="19.8" height="7.1" rx="3.55" fill="#b2b0db"/>
<rect x="298.82" y="361.05" width="19.8" height="7.1" rx="3.55" fill="#403ff2"/>
<rect x="320.68" y="361.05" width="19.8" height="7.1" rx="3.55" fill="#ff7e66"/>
<rect x="342.54" y="361.05" width="19.8" height="7.1" rx="3.55" fill="#ff9175"/>
<rect x="364.40" y="361.05" width="19.8" height="7.1" rx="3.55" fill="#ff7e66"/>
<rect x="255.10" y="370.40" width="19.8" height="7.1" rx="3.55" fill="#7371e8"/>
<rect x="276.96" y="370.40" width="19.8" height="7.1" rx="3.55" fill="#fff6c7"/>
<rect x="298.82" y="370.40" width="19.8" height="7.1" rx="3.55" fill="#3332f5"/>
<rect x="320.68" y="370.40" width="19.8" height="7.1" rx="3.55" fill="#ff9175"/>
<rect x="342.54" y="370.40" width="19.8" height="7.1" rx="3.55" fill="#ffc39e"/>
<rect x="364.40" y="370.40" width="19.8" height="7.1" rx="3.55" fill="#ff6552"/>
<rect x="255.10" y="379.74" width="19.8" height="7.1" rx="3.55" fill="#7371e8"/>
<rect x="276.96" y="379.74" width="19.8" height="7.1" rx="3.55" fill="#e6e3d1"/>
<rect x="298.82" y="379.74" width="19.8" height="7.1" rx="3.55" fill="#4645f1"/>
<rect x="320.68" y="379.74" width="19.8" height="7.1" rx="3.55" fill="#ffdcb2"/>
<rect x="342.54" y="379.74" width="19.8" height="7.1" rx="3.55" fill="#ff5e4c"/>
<rect x="364.40" y="379.74" width="19.8" height="7.1" rx="3.55" fill="#ff6552"/>
<path class="dg" d="M44.66 11.30L66.52 11.30M44.66 11.30L44.66 14.60M66.52 11.30L66.52 14.60M22.80 7.50L55.59 7.50M22.80 7.50L22.80 14.60M55.59 7.50L55.59 11.30M110.24 11.30L132.10 11.30M110.24 11.30L110.24 14.60M132.10 11.30L132.10 14.60M88.38 7.50L121.17 7.50M88.38 7.50L88.38 14.60M121.17 7.50L121.17 11.30M39.20 3.70L104.77 3.70M39.20 3.70L39.20 7.50M104.77 3.70L104.77 7.50"/>
<path class="dg" d="M44.66 210.00L66.52 210.00M44.66 210.00L44.66 213.60M66.52 210.00L66.52 213.60M22.80 206.20L55.59 206.20M22.80 206.20L22.80 213.60M55.59 206.20L55.59 210.00M110.24 210.00L132.10 210.00M110.24 210.00L110.24 213.60M132.10 210.00L132.10 213.60M88.38 206.20L121.17 206.20M88.38 206.20L88.38 213.60M121.17 206.20L121.17 210.00M39.20 202.50L104.77 202.50M39.20 202.50L39.20 206.20M104.77 202.50L104.77 206.20"/>
<path class="dg" d="M265.00 11.30L286.86 11.30M265.00 11.30L265.00 14.80M286.86 11.30L286.86 14.80M275.93 7.40L308.72 7.40M275.93 7.40L275.93 11.30M308.72 7.40L308.72 14.80M330.58 11.30L352.44 11.30M330.58 11.30L330.58 14.80M352.44 11.30L352.44 14.80M341.51 7.40L374.30 7.40M341.51 7.40L341.51 11.30M374.30 7.40L374.30 14.80M292.33 4.20L357.90 4.20M292.33 4.20L292.33 7.40M357.90 4.20L357.90 7.40"/>
<path class="dg" d="M7.26 18.75L12.10 18.75M7.26 27.95L12.10 27.95M7.26 18.75L7.26 27.95M6.12 23.35L7.26 23.35M6.12 37.14L12.10 37.14M6.12 23.35L6.12 37.14M7.26 46.34L12.10 46.34M7.26 55.54L12.10 55.54M7.26 46.34L7.26 55.54M6.12 50.94L7.26 50.94M6.12 64.73L12.10 64.73M6.12 50.94L6.12 64.73M4.98 30.25L6.12 30.25M4.98 57.84L6.12 57.84M4.98 30.25L4.98 57.84M7.26 92.33L12.10 92.33M7.26 101.52L12.10 101.52M7.26 92.33L7.26 101.52M6.69 83.13L12.10 83.13M6.69 96.92L7.26 96.92M6.69 83.13L6.69 96.92M6.12 73.93L12.10 73.93M6.12 90.03L6.69 90.03M6.12 73.93L6.12 90.03M7.26 110.72L12.10 110.72M7.26 119.92L12.10 119.92M7.26 110.72L7.26 119.92M7.26 156.70L12.10 156.70M7.26 165.90L12.10 165.90M7.26 156.70L7.26 165.90M6.69 147.51L12.10 147.51M6.69 161.30L7.26 161.30M6.69 147.51L6.69 161.30M6.12 138.31L12.10 138.31M6.12 154.41L6.69 154.41M6.12 138.31L6.12 154.41M5.55 129.11L12.10 129.11M5.55 146.36L6.12 146.36M5.55 129.11L5.55 146.36M4.98 115.32L7.26 115.32M4.98 137.74L5.55 137.74M4.98 115.32L4.98 137.74M4.41 81.98L6.12 81.98M4.41 126.53L4.98 126.53M4.41 81.98L4.41 126.53M3.27 44.04L4.98 44.04M3.27 104.25L4.41 104.25M3.27 44.04L3.27 104.25"/>
<path class="dg" d="M6.69 217.65L12.10 217.65M6.69 226.83L12.10 226.83M6.69 217.65L6.69 226.83M7.26 245.19L12.10 245.19M7.26 254.37L12.10 254.37M7.26 245.19L7.26 254.37M6.12 236.01L12.10 236.01M6.12 249.78L7.26 249.78M6.12 236.01L6.12 249.78M4.98 222.24L6.69 222.24M4.98 242.89L6.12 242.89M4.98 222.24L4.98 242.89M7.26 281.91L12.10 281.91M7.26 291.09L12.10 291.09M7.26 281.91L7.26 291.09M6.69 272.73L12.10 272.73M6.69 286.50L7.26 286.50M6.69 272.73L6.69 286.50M5.55 263.55L12.10 263.55M5.55 279.62L6.69 279.62M5.55 263.55L5.55 279.62M6.69 300.27L12.10 300.27M6.69 309.45L12.10 309.45M6.69 300.27L6.69 309.45M7.26 336.99L12.10 336.99M7.26 346.17L12.10 346.17M7.26 336.99L7.26 346.17M6.69 327.81L12.10 327.81M6.69 341.58L7.26 341.58M6.69 327.81L6.69 341.58M5.55 318.63L12.10 318.63M5.55 334.69L6.69 334.69M5.55 318.63L5.55 334.69M4.98 304.86L6.69 304.86M4.98 326.66L5.55 326.66M4.98 304.86L4.98 326.66M4.41 271.58L5.55 271.58M4.41 315.76L4.98 315.76M4.41 271.58L4.41 315.76M3.27 232.57L4.98 232.57M3.27 293.67L4.41 293.67M3.27 232.57L3.27 293.67"/>
<path class="dg" d="M249.98 18.80L253.90 18.80M249.98 28.15L253.90 28.15M249.98 18.80L249.98 28.15M249.98 37.49L253.90 37.49M249.98 46.84L253.90 46.84M249.98 37.49L249.98 46.84M248.86 23.47L249.98 23.47M248.86 42.17L249.98 42.17M248.86 23.47L248.86 42.17M249.42 56.18L253.90 56.18M249.42 65.53L253.90 65.53M249.42 56.18L249.42 65.53M249.98 74.88L253.90 74.88M249.98 84.22L253.90 84.22M249.98 74.88L249.98 84.22M250.26 102.91L253.90 102.91M250.26 112.26L253.90 112.26M250.26 102.91L250.26 112.26M249.98 93.57L253.90 93.57M249.98 107.59L250.26 107.59M249.98 93.57L249.98 107.59M248.86 79.55L249.98 79.55M248.86 100.58L249.98 100.58M248.86 79.55L248.86 100.58M248.30 60.86L249.42 60.86M248.30 90.06L248.86 90.06M248.30 60.86L248.30 90.06M247.74 32.82L248.86 32.82M247.74 75.46L248.30 75.46M247.74 32.82L247.74 75.46M249.42 130.95L253.90 130.95M249.42 140.30L253.90 140.30M249.42 130.95L249.42 140.30M248.86 121.61L253.90 121.61M248.86 135.62L249.42 135.62M248.86 121.61L248.86 135.62M249.98 168.34L253.90 168.34M249.98 177.68L253.90 177.68M249.98 168.34L249.98 177.68M249.42 158.99L253.90 158.99M249.42 173.01L249.98 173.01M249.42 158.99L249.42 173.01M248.30 149.64L253.90 149.64M248.30 166.00L249.42 166.00M248.30 149.64L248.30 166.00M247.74 128.62L248.86 128.62M247.74 157.82L248.30 157.82M247.74 128.62L247.74 157.82M246.62 54.14L247.74 54.14M246.62 143.22L247.74 143.22M246.62 54.14L246.62 143.22M249.98 187.03L253.90 187.03M249.98 196.37L253.90 196.37M249.98 187.03L249.98 196.37M248.86 191.70L249.98 191.70M248.86 205.72L253.90 205.72M248.86 191.70L248.86 205.72M249.98 215.07L253.90 215.07M249.98 224.41L253.90 224.41M249.98 215.07L249.98 224.41M249.98 233.76L253.90 233.76M249.98 243.10L253.90 243.10M249.98 233.76L249.98 243.10M249.42 219.74L249.98 219.74M249.42 238.43L249.98 238.43M249.42 219.74L249.42 238.43M249.98 261.80L253.90 261.80M249.98 271.14L253.90 271.14M249.98 261.80L249.98 271.14M249.42 252.45L253.90 252.45M249.42 266.47L249.98 266.47M249.42 252.45L249.42 266.47M248.30 229.09L249.42 229.09M248.30 259.46L249.42 259.46M248.30 229.09L248.30 259.46M247.74 198.71L248.86 198.71M247.74 244.27L248.30 244.27M247.74 198.71L247.74 244.27M249.42 280.49L253.90 280.49M249.42 289.83L253.90 289.83M249.42 280.49L249.42 289.83M249.98 308.53L253.90 308.53M249.98 317.87L253.90 317.87M249.98 308.53L249.98 317.87M248.86 299.18L253.90 299.18M248.86 313.20L249.98 313.20M248.86 299.18L248.86 313.20M248.30 285.16L249.42 285.16M248.30 306.19L248.86 306.19M248.30 285.16L248.30 306.19M249.42 327.22L253.90 327.22M249.42 336.56L253.90 336.56M249.42 327.22L249.42 336.56M250.26 373.95L253.90 373.95M250.26 383.29L253.90 383.29M250.26 373.95L250.26 383.29M249.98 364.60L253.90 364.60M249.98 378.62L250.26 378.62M249.98 364.60L249.98 378.62M249.42 355.26L253.90 355.26M249.42 371.61L249.98 371.61M249.42 355.26L249.42 371.61M248.86 345.91L253.90 345.91M248.86 363.43L249.42 363.43M248.86 345.91L248.86 363.43M248.30 331.89L249.42 331.89M248.30 354.67L248.86 354.67M248.30 331.89L248.30 354.67M247.18 295.68L248.30 295.68M247.18 343.28L248.30 343.28M247.18 295.68L247.18 343.28M246.62 221.49L247.74 221.49M246.62 319.48L247.18 319.48M246.62 221.49L246.62 319.48M245.50 98.68L246.62 98.68M245.50 270.48L246.62 270.48M245.50 98.68L245.50 270.48"/>
<text x="143.2" y="21.55" class="lab">(+)-Linalool</text>
<text x="143.2" y="30.75" class="lab"><tspan font-style="italic">cis</tspan>-Aconitate</text>
<text x="143.2" y="39.94" class="lab"><tspan font-style="italic">cis</tspan>-Neoxanthin</text>
<text x="143.2" y="49.14" class="lab">(-)-Menthone</text>
<text x="143.2" y="58.34" class="lab">Baccatin III</text>
<text x="143.2" y="67.53" class="lab">Gibberellin A8</text>
<text x="143.2" y="76.73" class="lab">Antheraxanthin</text>
<text x="143.2" y="85.93" class="lab">Neoabietic acid</text>
<text x="143.2" y="95.13" class="lab">Gibberellin A53</text>
<text x="143.2" y="104.32" class="lab">Squalene</text>
<text x="143.2" y="113.52" class="lab">Geranylgeranyl diphosphate</text>
<text x="143.2" y="122.72" class="lab">10-Deacetylbaccatin III</text>
<text x="143.2" y="131.91" class="lab">Perillyl alcohol</text>
<text x="143.2" y="141.11" class="lab">Fumarate</text>
<text x="143.2" y="150.31" class="lab">Stigmasterol</text>
<text x="143.2" y="159.50" class="lab">Phytyl diphosphate</text>
<text x="143.2" y="168.70" class="lab">Oxaloacetate</text>
<text x="143.2" y="220.45" class="lab">Ribulose 1,5-bisphosphate</text>
<text x="143.2" y="229.63" class="lab">Glucose</text>
<text x="143.2" y="238.81" class="lab"><tspan font-style="italic">cis</tspan>-Aconitate</text>
<text x="143.2" y="247.99" class="lab">Dihydroxyacetone phosphate</text>
<text x="143.2" y="257.17" class="lab">Acetyl phosphate</text>
<text x="143.2" y="266.35" class="lab">Ribose 1,5-bisphosphate</text>
<text x="143.2" y="275.53" class="lab">(S)-Lactate</text>
<text x="143.2" y="284.71" class="lab">Deoxyribose 1-phosphate</text>
<text x="143.2" y="293.89" class="lab">Gluconic acid</text>
<text x="143.2" y="303.07" class="lab">L-Aspartate</text>
<text x="143.2" y="312.25" class="lab">NADH</text>
<text x="143.2" y="321.43" class="lab">2-Amino-2-deoxy-D-gluconate</text>
<text x="143.2" y="330.61" class="lab">Ribose 5-phosphate</text>
<text x="143.2" y="339.79" class="lab">Oxaloacetate</text>
<text x="143.2" y="348.97" class="lab">Fumarate</text>
<text x="385.4" y="21.60" class="lab">2-Aminophenol</text>
<text x="385.4" y="30.95" class="lab">Indole-3-acetate</text>
<text x="385.4" y="40.29" class="lab">4-(2-Amino-3-hydroxyphenyl)-2,4-dioxobutanoate</text>
<text x="385.4" y="49.64" class="lab">2-Methylmaleate</text>
<text x="385.4" y="58.98" class="lab">Glutathione</text>
<text x="385.4" y="68.33" class="lab">L-Cysteate</text>
<text x="385.4" y="77.68" class="lab">Methyl-L-histidine</text>
<text x="385.4" y="87.02" class="lab">L-Isoleucine</text>
<text x="385.4" y="96.37" class="lab">O-Acetyl-L-serine</text>
<text x="385.4" y="105.71" class="lab">L-Cystine</text>
<text x="385.4" y="115.06" class="lab">L-Threonine</text>
<text x="385.4" y="124.41" class="lab">Ergothioneine</text>
<text x="385.4" y="133.75" class="lab">3-Hydroxy-L-kynurenine</text>
<text x="385.4" y="143.10" class="lab">Indolepyruvate</text>
<text x="385.4" y="152.44" class="lab">5-Methoxyindoleacetate</text>
<text x="385.4" y="161.79" class="lab">Skatole</text>
<text x="385.4" y="171.14" class="lab">N-Acetylaspartylglutamate</text>
<text x="385.4" y="180.48" class="lab">Hydantoin-5-propionate</text>
<text x="385.4" y="189.83" class="lab">3-Methoxyanthranilate</text>
<text x="385.4" y="199.17" class="lab">L-Aspartate</text>
<text x="385.4" y="208.52" class="lab">N-Carbamoyl-L-aspartate</text>
<text x="385.4" y="217.87" class="lab">2-Isopropyl-3-oxosuccinate</text>
<text x="385.4" y="227.21" class="lab">Fumarate</text>
<text x="385.4" y="236.56" class="lab">L-Formylkynurenine</text>
<text x="385.4" y="245.90" class="lab">L-Glutamate</text>
<text x="385.4" y="255.25" class="lab">Oxaloacetate</text>
<text x="385.4" y="264.60" class="lab">(S)-3-Hydroxybutyryl-CoA</text>
<text x="385.4" y="273.94" class="lab">L-Kynurenine</text>
<text x="385.4" y="283.29" class="lab">Indole-3-acetaldehyde</text>
<text x="385.4" y="292.63" class="lab">N-Acetylhistamine</text>
<text x="385.4" y="301.98" class="lab">Indole</text>
<text x="385.4" y="311.33" class="lab">L-Leucine</text>
<text x="385.4" y="320.67" class="lab">L-Serine</text>
<text x="385.4" y="330.02" class="lab">S-Sulfo-L-cysteine</text>
<text x="385.4" y="339.36" class="lab">L-Cystathionine</text>
<text x="385.4" y="348.71" class="lab">L-Tryptophan</text>
<text x="385.4" y="358.06" class="lab">8-Methoxykynurenate</text>
<text x="385.4" y="367.40" class="lab">5-Hydroxyindoleacetylglycine</text>
<text x="385.4" y="376.75" class="lab">L-Histidine trimethylbetaine</text>
<text x="385.4" y="386.09" class="lab">N-Acetyl-L-aspartate</text>
<rect x="12.90" y="173.30" width="63.52" height="1.6" fill="#3a3a3a"/>
<rect x="78.48" y="173.30" width="63.52" height="1.6" fill="#3a3a3a"/>
<text x="44.66" y="185.00" class="grp" text-anchor="middle">WT</text>
<text x="79.08" y="185.00" class="grp gi">Pro<tspan class="sub" dy="2.3">35S</tspan><tspan dy="-2.3">::CbDXS1</tspan></text>
<rect x="12.90" y="353.20" width="63.52" height="1.6" fill="#3a3a3a"/>
<rect x="78.48" y="353.20" width="63.52" height="1.6" fill="#3a3a3a"/>
<text x="44.66" y="365.00" class="grp" text-anchor="middle">WT</text>
<text x="79.08" y="365.00" class="grp gi">Pro<tspan class="sub" dy="2.3">35S</tspan><tspan dy="-2.3">::CbDXS1</tspan></text>
<rect x="255.10" y="391.30" width="63.52" height="1.6" fill="#3a3a3a"/>
<rect x="320.68" y="391.30" width="63.52" height="1.6" fill="#3a3a3a"/>
<text x="286.86" y="403.20" class="grp" text-anchor="middle">WT</text>
<text x="321.28" y="403.20" class="grp gi">Pro<tspan class="sub" dy="2.3">35S</tspan><tspan dy="-2.3">::CbDXS1</tspan></text>
<text x="4.4" y="12.4" class="pl">a</text>
<text x="4.1" y="212.2" class="pl">b</text>
<text x="245.6" y="12.1" class="pl">c</text>
<defs><linearGradient id="lg" x1="0" x2="1" y1="0" y2="0"><stop offset="0.0000" stop-color="#0000ff"/><stop offset="0.1250" stop-color="#1c1cfa"/><stop offset="0.2500" stop-color="#6c6cec"/><stop offset="0.3750" stop-color="#b2b2e0"/><stop offset="0.4500" stop-color="#e0e0d0"/><stop offset="0.5000" stop-color="#fffac3"/><stop offset="0.5625" stop-color="#ffe2ac"/><stop offset="0.6250" stop-color="#ffb68c"/><stop offset="0.7500" stop-color="#ff644c"/><stop offset="0.8750" stop-color="#ff1c16"/><stop offset="1.0000" stop-color="#ff0000"/></linearGradient></defs>
<rect x="18.9" y="380.9" width="119.3" height="9.6" fill="url(#lg)"/>
<path class="ax" d="M18.9 390.9L138.2 390.9M18.90 390.9L18.90 392.2M33.81 390.9L33.81 392.2M48.72 390.9L48.72 392.2M63.63 390.9L63.63 392.2M78.54 390.9L78.54 392.2M93.45 390.9L93.45 392.2M108.36 390.9L108.36 392.2M123.27 390.9L123.27 392.2M138.18 390.9L138.18 392.2"/>
<text x="18.9" y="402.6" class="lg" text-anchor="middle">−2.0</text>
<text x="48.7" y="402.6" class="lg" text-anchor="middle">−1.0</text>
<text x="78.5" y="402.6" class="lg" text-anchor="middle">0.0</text>
<text x="108.4" y="402.6" class="lg" text-anchor="middle">1.0</text>
<text x="138.2" y="402.6" class="lg" text-anchor="middle">2.0</text>
</svg>
</body></html>
